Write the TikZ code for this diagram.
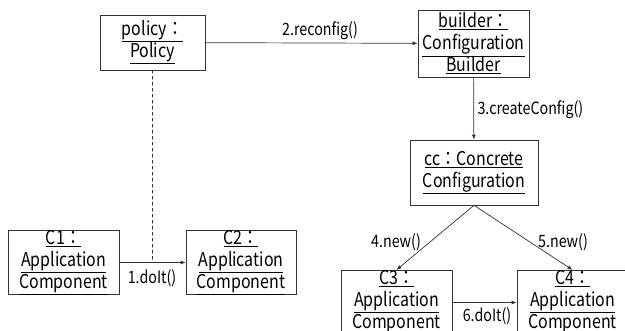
\documentclass[tikz,border=0pt]{standalone}
\usepackage{fontspec}
\setmainfont[FakeStretch=0.84]{Noto Sans CJK JP}
\usetikzlibrary{arrows.meta,calc,positioning}

\tikzset{
  obj/.style={draw=black!80, line width=0.7pt, align=center, inner sep=0pt,
              font=\fontsize{19}{22}\selectfont},
  msg/.style={font=\fontsize{17}{19}\selectfont},
  link/.style={black!80, line width=0.7pt}
}

\begin{document}
\begin{tikzpicture}[x=1pt, y=-1pt, >={Latex[length=5pt,width=4pt]}, line cap=round]
  \useasboundingbox (0,0) rectangle (625,331);
  \clip (0,0) rectangle (625,331);

  % objects
  \node[obj, minimum width=105pt, minimum height=55pt] (policy) at (152.5,42.5)
        {\underline{policy：}\\\underline{Policy}};
  \node[obj, minimum width=111pt, minimum height=67pt] (builder) at (473.5,43.5)
        {\underline{builder：}\\\underline{Configuration}\\\underline{Builder}};
  \node[obj, minimum width=128pt, minimum height=65pt] (cc) at (474,172.5)
        {\underline{cc：Concrete}\\\underline{Configuration}};
  \node[obj, minimum width=111pt, minimum height=61pt] (c1) at (63.5,262.5)
        {\underline{C1：}\\\underline{Application}\\\underline{Component}};
  \node[obj, minimum width=110pt, minimum height=61pt] (c2) at (241,262.5)
        {\underline{C2：}\\\underline{Application}\\\underline{Component}};
  \node[obj, minimum width=111pt, minimum height=61pt] (c3) at (396.5,302.5)
        {\underline{C3：}\\\underline{Application}\\\underline{Component}};
  \node[obj, minimum width=111pt, minimum height=61pt] (c4) at (572.5,302.5)
        {\underline{C4：}\\\underline{Application}\\\underline{Component}};

  % messages
  \draw[->, link] (policy) -- (builder);
  \node[msg] (m2) at (320,31) {2.reconfig()};
  \draw[->, link] (builder) -- (cc);
  \node[msg, anchor=west] (m3) at (474,110) {3.createConfig()};
  \draw[->, link] (c1) -- (c2);
  \node[msg] (m1) at (152,278) {1.doIt()};
  \draw[->, link] (cc.south) -- (c3.north);
  \node[msg] (m4) at (396,242) {4.new()};
  \draw[->, link] (cc.south) -- (c4.north);
  \node[msg] (m5) at (563,242) {5.new()};
  \draw[->, link] (c3) -- (c4);
  \node[msg] (m6) at (487,316) {6.doIt()};

  % link from policy down to the first call
  \coordinate (call1) at ($(c1.east)!0.5!(c2.west)$);
  \draw[dashed, link] (policy.south) -- (call1);
\end{tikzpicture}
\end{document}
